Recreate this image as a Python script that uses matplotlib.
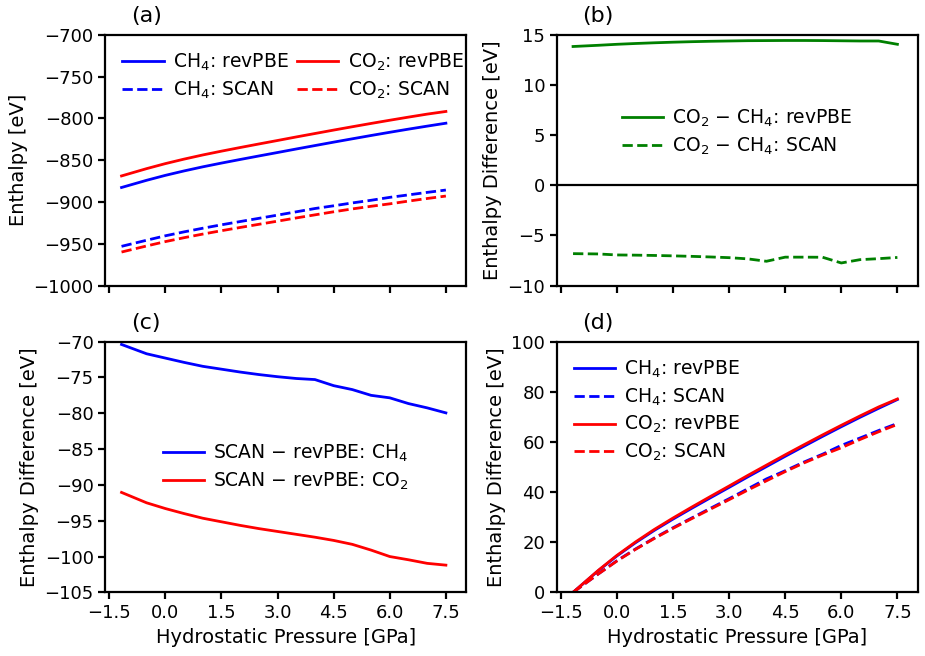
import numpy as np
import matplotlib
matplotlib.use("Agg")
import matplotlib.pyplot as plt

plt.rcParams['font.size'] = 14
plt.rcParams['xtick.labelsize'] = 13
plt.rcParams['ytick.labelsize'] = 13
plt.rcParams['legend.fontsize'] = 13.5
plt.rcParams['legend.handletextpad'] = 0.5
plt.rcParams['legend.handlelength'] = 2.2
plt.rcParams['legend.labelspacing'] = 0.35
plt.rcParams['axes.linewidth'] = 1.6
plt.rcParams['xtick.major.width'] = 1.6
plt.rcParams['ytick.major.width'] = 1.6
plt.rcParams['xtick.major.size'] = 5
plt.rcParams['ytick.major.size'] = 5

# hydrostatic pressure [GPa]
pressure = [-1.17, -0.5, 0.0, 0.5, 1.0, 1.5, 2.0, 2.5, 3.0,
            3.5, 4.0, 4.5, 5.0, 5.5, 6.0, 6.5, 7.0, 7.5]

# CH4 revPBE enthalpy, relative to the first pressure point [eV]
ch4_revpbe_rel = [0.0, 8.6, 14.5, 19.8, 24.7, 29.2, 33.5, 37.7, 41.85,
                  46.05, 50.15, 54.25, 58.25, 62.2, 66.05, 69.8, 73.4, 76.9]
ch4_revpbe_start = -882.7

# CO2 - CH4 (revPBE) [eV]
diff_co2_ch4_revpbe = [13.83, 13.95, 14.05, 14.13, 14.20, 14.26, 14.31, 14.35, 14.38,
                       14.41, 14.42, 14.43, 14.43, 14.42, 14.40, 14.38, 14.38, 14.05]

# SCAN - revPBE [eV]
diff_scan_ch4 = [-70.4, -71.7, -72.3, -72.9, -73.45, -73.85, -74.25, -74.6, -74.9,
                 -75.15, -75.3, -76.15, -76.7, -77.5, -77.85, -78.65, -79.25, -79.95]
diff_scan_co2 = [-91.05, -92.5, -93.3, -94.0, -94.65, -95.15, -95.65, -96.1, -96.5,
                 -96.9, -97.3, -97.75, -98.3, -99.1, -100.0, -100.45, -100.95, -101.2]

p = np.array(pressure)
ch4_rev = ch4_revpbe_start + np.array(ch4_revpbe_rel)
ch4_scan = ch4_rev + np.array(diff_scan_ch4)
co2_rev = ch4_rev + np.array(diff_co2_ch4_revpbe)
co2_scan = co2_rev + np.array(diff_scan_co2)

fig, axs = plt.subplots(2, 2, figsize=(9.25, 6.56), dpi=100)
plt.subplots_adjust(left=0.114, right=0.992, bottom=0.097, top=0.947,
                    wspace=0.252, hspace=0.2235)
ax_a, ax_b, ax_c, ax_d = axs[0, 0], axs[0, 1], axs[1, 0], axs[1, 1]
lw = 2.0

# (a) absolute enthalpies
ax_a.plot(p, ch4_rev, color='blue', lw=lw, label='CH$_4$: revPBE')
ax_a.plot(p, ch4_scan, color='blue', lw=lw, ls='--', label='CH$_4$: SCAN')
ax_a.plot(p, co2_rev, color='red', lw=lw, label='CO$_2$: revPBE')
ax_a.plot(p, co2_scan, color='red', lw=lw, ls='--', label='CO$_2$: SCAN')
ax_a.set_ylim(-1000, -700)
ax_a.set_ylabel('Enthalpy [eV]')
ax_a.legend(loc='upper left', ncol=2, frameon=False, columnspacing=0.45)

# (b) CO2 - CH4
ax_b.plot(p, co2_rev - ch4_rev, color='green', lw=lw, label='CO$_2$ − CH$_4$: revPBE')
ax_b.plot(p, co2_scan - ch4_scan, color='green', lw=lw, ls='--', label='CO$_2$ − CH$_4$: SCAN')
ax_b.axhline(0, color='black', lw=1.6)
ax_b.set_ylim(-10, 15)
ax_b.set_yticks(np.arange(-10, 16, 5))
ax_b.set_ylabel('Enthalpy Difference [eV]')
ax_b.legend(loc='center', bbox_to_anchor=(0.5, 0.61), frameon=False)

# (c) SCAN - revPBE
ax_c.plot(p, ch4_scan - ch4_rev, color='blue', lw=lw, label='SCAN − revPBE: CH$_4$')
ax_c.plot(p, co2_scan - co2_rev, color='red', lw=lw, label='SCAN − revPBE: CO$_2$')
ax_c.set_ylim(-105, -70)
ax_c.set_yticks(np.arange(-105, -69, 5))
ax_c.set_ylabel('Enthalpy Difference [eV]')
ax_c.legend(loc='center', frameon=False)

# (d) relative to lowest pressure
ax_d.plot(p, ch4_rev - ch4_rev[0], color='blue', lw=lw, label='CH$_4$: revPBE')
ax_d.plot(p, ch4_scan - ch4_scan[0], color='blue', lw=lw, ls='--', label='CH$_4$: SCAN')
ax_d.plot(p, co2_rev - co2_rev[0], color='red', lw=lw, label='CO$_2$: revPBE')
ax_d.plot(p, co2_scan - co2_scan[0], color='red', lw=lw, ls='--', label='CO$_2$: SCAN')
ax_d.set_ylim(0, 100)
ax_d.set_ylabel('Enthalpy Difference [eV]')
ax_d.legend(loc='upper left', frameon=False)

for ax, tag in zip([ax_a, ax_b, ax_c, ax_d], ['(a)', '(b)', '(c)', '(d)']):
    ax.set_xlim(-1.6, 8.04)
    ax.set_xticks(np.arange(-1.5, 7.6, 1.5))
    ax.text(0.07, 1.035, tag, transform=ax.transAxes, fontsize=16, va='bottom')

ax_a.set_xticklabels([])
ax_b.set_xticklabels([])
ax_c.set_xlabel('Hydrostatic Pressure [GPa]')
ax_d.set_xlabel('Hydrostatic Pressure [GPa]')

fig.savefig('out.png', dpi=100)
